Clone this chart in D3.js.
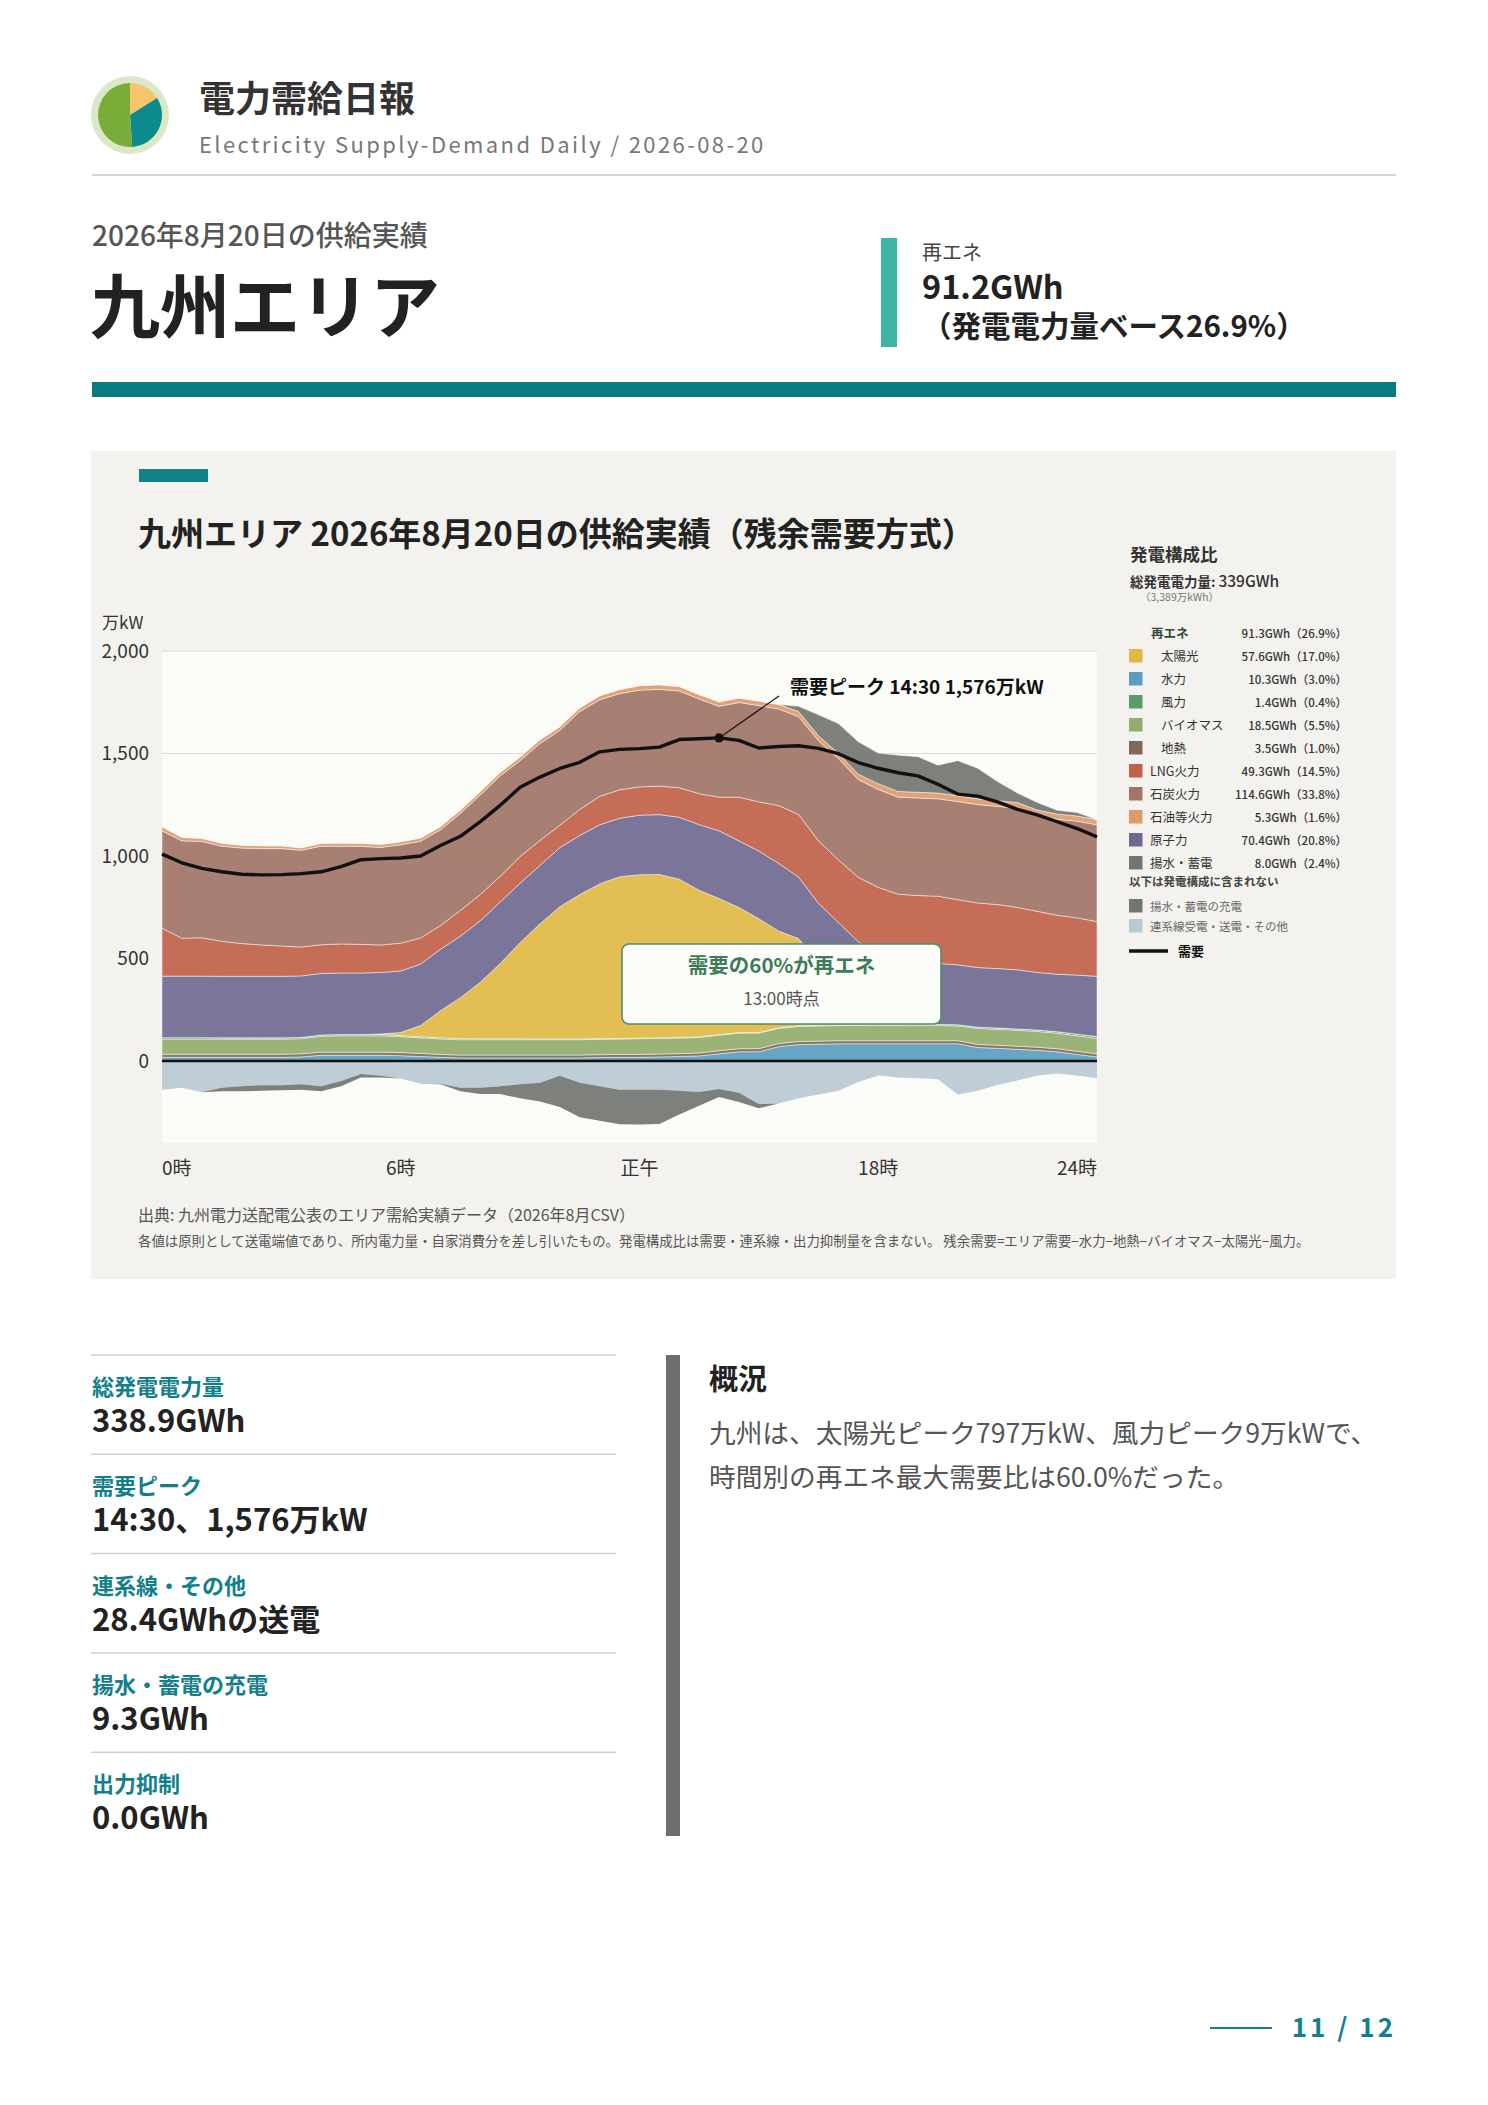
<!DOCTYPE html>
<html lang="ja">
<head>
<meta charset="utf-8">
<script src="https://cdn.jsdelivr.net/npm/d3@7"></script>
<style>
  html, body { margin: 0; padding: 0; background: #fff; }
  svg { display: block; font-family: "Noto Sans CJK JP", "Noto Sans", sans-serif; }
</style>
</head>
<body>
<svg id="page" width="1488" height="2105"></svg>
<script>
// --- data (万kW, 30-minute slots) ---
const HOURS = [0,0.5,1,1.5,2,2.5,3,3.5,4,4.5,5,5.5,6,6.5,7,7.5,8,8.5,9,9.5,10,10.5,11,11.5,
  12,12.5,13,13.5,14,14.5,15,15.5,16,16.5,17,17.5,18,18.5,19,19.5,20,20.5,21,21.5,22,22.5,23,23.5];

const HYDRO = [18,18,18,18,18,18,18,20,28,28,28,28, 26,22,18,15,15,15,15,15,15,15,17,18,
  18,20,22,25,35,45,45,70,80,82,84,84, 84,84,84,84,84,66,62,57,52,45,32,20];
const GEOTHERMAL = [15,15,15,15,15,15,15,15,15,15,15,15, 15,15,14,14,14,14,14,14,14,14,14,14,
  14,14,14,14,15,15,15,15,15,15,15,15, 15,15,15,15,15,15,15,15,15,15,15,15];
const BIOMASS = [74,74,74,74,74,74,74,74,78,80,80,80, 78,76,76,75,75,75,75,75,75,75,75,75,
  77,76,76,76,76,76,76,74,74,74,74,74, 74,74,74,74,72,78,78,78,77,76,76,75];
const WIND = [7,7,7,6,6,6,6,6,6,6,6,6, 5,5,5,5,4,4,4,3,3,3,3,3,
  3,3,3,3,3,3,3,3,3,3,3,4, 4,4,5,5,6,6,6,6,7,7,8,9];
const SOLAR = [0,0,0,0,0,0,0,0,0,0,0,3, 15,55,132,200,276,368,469,562,646,705,755,789,
  797,797,772,715,664,610,555,472,425,305,212,120, 60,25,8,0,0,0,0,0,0,0,0,0];
const NUCLEAR = [300,300,300,300,300,300,300,300,300,300,300,300, 300,300,300,300,300,300,290,285,288,288,288,285,
  290,292,302,320,330,325,330,330,300,290,288,285, 290,290,295,298,292,291,290,289,281,280,288,294];
const LNG = [234,185,187,171,160,153,148,141,140,142,140,134, 136,127,116,125,128,125,130,122,109,127,139,139,
  138,139,144,151,164,213,240,282,305,305,305,314, 320,322,326,328,318,315,312,304,298,288,279,267];
const COAL = [475,475,470,464,466,470,475,472,481,477,478,476, 480,472,467,474,486,490,468,473,463,478,471,469,
  472,472,472,462,443,462,470,471,478,488,495,477, 478,473,476,475,479,480,479,484,468,468,472,472];
const OIL = [20,17,15,15,14,14,14,12,14,15,15,15, 15,16,16,16,17,17,18,18,18,18,20,20,
  22,22,22,22,22,22,22,22,25,24,25,26, 28,28,28,28,28,28,28,28,26,26,25,25];
const PUMPED_GEN = [0,0,0,0,0,0,0,0,0,0,0,0, 0,0,0,0,0,0,0,0,0,0,0,0,
  0,0,0,0,0,0,0,0,25,103,145,158, 149,177,173,136,171,149,93,46,37,18,17,0];
// drawn below zero
const EXPORT = [140,131,153,131,123,118,118,114,123,97,64,72, 85,111,111,131,131,123,114,106,72,106,123,140,
  140,140,145,151,136,155,210,207,182,164,145,102, 71,80,84,89,164,145,117,95,71,61,71,84];
const CHARGE = [0,0,0,17,25,27,25,26,25,26,17,9, 0,0,3,17,30,38,68,92,152,168,168,168,
  170,167,116,67,40,45,21,0,0,0,0,0, 0,0,0,0,0,0,0,0,0,0,0,0];
const DEMAND = [1009,967,940,923,911,908,909,914,923,948,982,987, 990,1000,1051,1096,1168,1247,1335,1385,1427,1457,1508,1520,
  1524,1531,1568,1572,1576,1564,1527,1534,1538,1525,1499,1456, 1428,1406,1391,1350,1302,1292,1264,1227,1201,1167,1134,1093];

const Y_TICKS = [0, 500, 1000, 1500, 2000];
const X_TICKS = [0, 6, 12, 18, 24];
const X_TICK_LABELS = ['0時', '6時', '正午', '18時', '24時'];

const PEAK_HOUR = 14;
const PEAK_VALUE = 1576;

const LEGEND_KEYS = ['solar','hydro','wind','biomass','geothermal','lng','coal','oil','nuclear','pumped'];
const LEGEND_NAMES = ['太陽光','水力','風力','バイオマス','地熱','LNG火力','石炭火力','石油等火力','原子力','揚水・蓄電'];
const LEGEND_GWH = [57.6, 10.3, 1.4, 18.5, 3.5, 49.3, 114.6, 5.3, 70.4, 8.0];
const LEGEND_PCT = [17.0, 3.0, 0.4, 5.5, 1.0, 14.5, 33.8, 1.6, 20.8, 2.4];
const RENEW_GWH = 91.3, RENEW_PCT = 26.9;

const LOGO_SHARES = [16.1, 32.8, 51.1];

const STAT_LABELS = ['総発電電力量', '需要ピーク', '連系線・その他', '揚水・蓄電の充電', '出力抑制'];
const STAT_VALUES = ['338.9GWh', '14:30、1,576万kW', '28.4GWhの送電', '9.3GWh', '0.0GWh'];

// --- styles ---
const COLORS = {
  hydro: '#5b9cbf', geothermal: '#806a55', biomass: '#94ad6c', wind: '#5a9a6c',
  solar: '#e0b944', nuclear: '#6f6990', lng: '#c1614a', coal: '#a17567',
  oil: '#de9a6b', pumped: '#737670', charge: '#737670', export: '#b9c9d2'
};
const TEAL = '#12808b';

const page = d3.select('#page');

function txt(g, x, y, s, size, o = {}) {
  return g.append('text')
    .attr('x', x).attr('y', y)
    .attr('font-size', size)
    .attr('font-weight', o.weight || 400)
    .attr('fill', o.fill || '#222')
    .attr('text-anchor', o.anchor || 'start')
    .attr('letter-spacing', o.ls || null)
    .text(s);
}

// --- header ---
page.append('circle').attr('cx', 130).attr('cy', 115).attr('r', 39).attr('fill', '#d9e9c8');
const logo = page.append('g').attr('transform', 'translate(130,115)');
logo.selectAll('path')
  .data(d3.pie().sort(null)(LOGO_SHARES))
  .join('path')
  .attr('d', d3.arc().innerRadius(0).outerRadius(32))
  .attr('fill', (d, i) => ['#f6c46b', '#0d8a8c', '#7aac3a'][i]);

txt(page, 199, 112, '電力需給日報', 36, { weight: 700, fill: '#333' });
txt(page, 199, 153, 'Electricity Supply-Demand Daily / 2026-08-20', 22, { fill: '#777', ls: 2.4 });
page.append('line').attr('x1', 92).attr('x2', 1396).attr('y1', 175).attr('y2', 175)
  .attr('stroke', '#d4d4d4').attr('stroke-width', 2);

txt(page, 92, 246, '2026年8月20日の供給実績', 28, { fill: '#555', weight: 500 });
txt(page, 90, 333, '九州エリア', 70, { weight: 700, fill: '#222' });

page.append('rect').attr('x', 881).attr('y', 238).attr('width', 16).attr('height', 109).attr('fill', '#3db6a5');
txt(page, 922, 260, '再エネ', 20, { fill: '#444' });
txt(page, 922, 299, '91.2GWh', 32.5, { weight: 700, fill: '#222' });
txt(page, 922, 337, '（発電電力量ベース26.9%）', 29.5, { weight: 700, fill: '#222' });
page.append('rect').attr('x', 92).attr('y', 382).attr('width', 1304).attr('height', 15).attr('fill', '#087b80');

// --- chart panel ---
page.append('rect').attr('x', 91).attr('y', 451).attr('width', 1305).attr('height', 828).attr('fill', '#f3f2ee');
page.append('rect').attr('x', 139).attr('y', 469).attr('width', 69).attr('height', 13).attr('fill', '#16808a');
txt(page, 138, 546, '九州エリア 2026年8月20日の供給実績（残余需要方式）', 33, { weight: 700, fill: '#222' });

const x = d3.scaleLinear().domain([0, 23.5]).range([162, 1097]);
const y = d3.scaleLinear().domain([-400, 2000]).range([1143, 651]);

const chart = page.append('g');
chart.append('rect').attr('x', 162).attr('y', y(2000)).attr('width', 1097 - 162).attr('height', y(-400) - y(2000))
  .attr('fill', '#fbfbf8');
chart.append('defs').append('clipPath').attr('id', 'plotclip')
  .append('rect').attr('x', 162).attr('y', y(2000)).attr('width', 1097 - 162).attr('height', y(-400) - y(2000));

chart.selectAll('.grid').data(Y_TICKS.filter(v => v > 0)).join('line')
  .attr('class', 'grid')
  .attr('x1', 162).attr('x2', 1097)
  .attr('y1', d => y(d)).attr('y2', d => y(d))
  .attr('stroke', '#dcdcd6').attr('stroke-width', 1.2);

chart.selectAll('.ytick').data(Y_TICKS).join('text')
  .attr('class', 'ytick')
  .attr('x', 149).attr('y', d => y(d)).attr('dy', '0.36em')
  .attr('text-anchor', 'end').attr('font-size', 19).attr('fill', '#333')
  .text(d3.format(','));
txt(chart, 102, 629, '万kW', 17, { fill: '#333' });

chart.selectAll('.xtick').data(X_TICKS).join('text')
  .attr('class', 'xtick')
  .attr('x', d => x(Math.min(d, 23.5)))
  .attr('y', 1175)
  .attr('text-anchor', d => d === 0 ? 'start' : (d === 24 ? 'end' : 'middle'))
  .attr('font-size', 19).attr('fill', '#333')
  .text((d, i) => X_TICK_LABELS[i]);

// stacked areas: supply above zero, outflows below zero
const rows = HOURS.map((t, i) => ({
  t,
  hydro: HYDRO[i], geothermal: GEOTHERMAL[i], biomass: BIOMASS[i], wind: WIND[i],
  solar: SOLAR[i], nuclear: NUCLEAR[i], lng: LNG[i], coal: COAL[i], oil: OIL[i],
  pumped: PUMPED_GEN[i], export: -EXPORT[i], charge: -CHARGE[i]
}));
const posLayers = d3.stack()
  .keys(['hydro','geothermal','biomass','wind','solar','nuclear','lng','coal','oil','pumped'])(rows);
const negLayers = d3.stack().keys(['export','charge'])(rows);

const area = d3.area()
  .x(d => x(d.data.t))
  .y0(d => y(d[0]))
  .y1(d => y(d[1]));

const areaG = chart.append('g').attr('clip-path', 'url(#plotclip)');
areaG.selectAll('.neg').data(negLayers).join('path')
  .attr('class', 'neg')
  .attr('d', area)
  .attr('fill', d => COLORS[d.key])
  .attr('fill-opacity', 0.92);
areaG.selectAll('.pos').data(posLayers).join('path')
  .attr('class', 'pos')
  .attr('d', area)
  .attr('fill', d => COLORS[d.key])
  .attr('fill-opacity', 0.92)
  .attr('stroke', '#fff')
  .attr('stroke-width', 0.8)
  .attr('stroke-opacity', 0.6);

// zero line and small ticks
chart.append('line').attr('x1', 162).attr('x2', 1097).attr('y1', y(0)).attr('y2', y(0))
  .attr('stroke', '#111').attr('stroke-width', 2.4);
chart.selectAll('.xmark').data([6, 12, 18]).join('line')
  .attr('class', 'xmark')
  .attr('x1', d => x(d)).attr('x2', d => x(d))
  .attr('y1', y(0) + 2).attr('y2', y(0) + 8)
  .attr('stroke', '#c9cfd2').attr('stroke-width', 1.5);

// demand
chart.append('path')
  .datum(DEMAND)
  .attr('d', d3.line().x((d, i) => x(HOURS[i])).y(d => y(d)))
  .attr('fill', 'none').attr('stroke', '#111').attr('stroke-width', 3.4)
  .attr('stroke-linejoin', 'round');

// peak annotation
chart.append('line')
  .attr('x1', x(PEAK_HOUR)).attr('y1', y(PEAK_VALUE))
  .attr('x2', 779).attr('y2', 696)
  .attr('stroke', '#111').attr('stroke-width', 1.2);
chart.append('circle').attr('cx', x(PEAK_HOUR)).attr('cy', y(PEAK_VALUE)).attr('r', 4.6).attr('fill', '#111');
txt(chart, 790, 694, '需要ピーク 14:30 1,576万kW', 19, { weight: 700, fill: '#111' });

// renewables share box
chart.append('rect').attr('x', 622).attr('y', 944).attr('width', 319).attr('height', 80).attr('rx', 7)
  .attr('fill', '#fcfcf9').attr('stroke', '#4d8b6a').attr('stroke-width', 1.6);
txt(chart, 781.5, 973, '需要の60%が再エネ', 20.5, { weight: 700, fill: '#3e7b58', anchor: 'middle' });
txt(chart, 781.5, 1005, '13:00時点', 17, { fill: '#555', anchor: 'middle' });

// --- legend ---
const lg = page.append('g');
txt(lg, 1130, 561, '発電構成比', 17.5, { weight: 700, fill: '#333' });
const tot = lg.append('text').attr('x', 1130).attr('y', 587).attr('fill', '#333');
tot.append('tspan').attr('font-size', 13.5).attr('font-weight', 700).text('総発電電力量: ');
tot.append('tspan').attr('font-size', 15.5).attr('font-weight', 500).text('339GWh');
txt(lg, 1140, 601, '（3,389万kWh）', 10.5, { fill: '#777' });

const fmtVal = (g, p) => `${g.toFixed(1)}GWh（${p.toFixed(1)}%）`;
txt(lg, 1151, 638, '再エネ', 12.5, { weight: 700, fill: '#2e4a3b' });
txt(lg, 1347, 638, fmtVal(RENEW_GWH, RENEW_PCT), 11.5, { weight: 500, fill: '#333', anchor: 'end' });

LEGEND_NAMES.forEach((name, i) => {
  const yc = 656 + i * 23;
  lg.append('rect').attr('x', 1129).attr('y', yc - 7).attr('width', 13.5).attr('height', 13.5)
    .attr('fill', COLORS[LEGEND_KEYS[i]]);
  txt(lg, i < 5 ? 1161 : 1150, yc + 4.5, name, 12.5, { fill: '#333' });
  txt(lg, 1347, yc + 4.5, fmtVal(LEGEND_GWH[i], LEGEND_PCT[i]), 11.5, { weight: 500, fill: '#333', anchor: 'end' });
});
txt(lg, 1129, 886, '以下は発電構成に含まれない', 11.5, { weight: 700, fill: '#444' });
[['charge', '揚水・蓄電の充電'], ['export', '連系線受電・送電・その他']].forEach(([k, name], i) => {
  const yc = 906 + i * 20;
  lg.append('rect').attr('x', 1129).attr('y', yc - 7).attr('width', 13.5).attr('height', 13.5).attr('fill', COLORS[k]);
  txt(lg, 1150, yc + 4.5, name, 11.5, { fill: '#666' });
});
lg.append('line').attr('x1', 1129).attr('x2', 1168).attr('y1', 951).attr('y2', 951)
  .attr('stroke', '#111').attr('stroke-width', 3.5);
txt(lg, 1178, 956, '需要', 13, { weight: 700, fill: '#111' });

// notes
txt(page, 138, 1221, '出典: 九州電力送配電公表のエリア需給実績データ（2026年8月CSV）', 16, { fill: '#555' });
txt(page, 138, 1246, '各値は原則として送電端値であり、所内電力量・自家消費分を差し引いたもの。発電構成比は需要・連系線・出力抑制量を含まない。 残余需要=エリア需要−水力−地熱−バイオマス−太陽光−風力。', 13.4, { fill: '#555' });

// --- stats ---
STAT_LABELS.forEach((label, i) => {
  const top = 1355 + i * 99.3;
  page.append('line').attr('x1', 91).attr('x2', 616).attr('y1', top).attr('y2', top)
    .attr('stroke', '#cfcfcf').attr('stroke-width', 1.5);
  txt(page, 92, top + 40, label, 22, { weight: 700, fill: TEAL });
  txt(page, 92, top + 77, STAT_VALUES[i], 31, { weight: 700, fill: '#222' });
});

page.append('rect').attr('x', 666).attr('y', 1355).attr('width', 14).attr('height', 481).attr('fill', '#6e6e72');
txt(page, 709, 1390, '概況', 29, { weight: 700, fill: '#222' });
txt(page, 709, 1443, '九州は、太陽光ピーク797万kW、風力ピーク9万kWで、', 26.7, { fill: '#555' });
txt(page, 709, 1487, '時間別の再エネ最大需要比は60.0%だった。', 26.7, { fill: '#555' });

// page number
page.append('line').attr('x1', 1210).attr('x2', 1272).attr('y1', 2028).attr('y2', 2028)
  .attr('stroke', TEAL).attr('stroke-width', 2);
txt(page, 1396, 2037, '11 / 12', 26, { weight: 700, fill: TEAL, anchor: 'end', ls: 3 });
</script>
</body>
</html>
